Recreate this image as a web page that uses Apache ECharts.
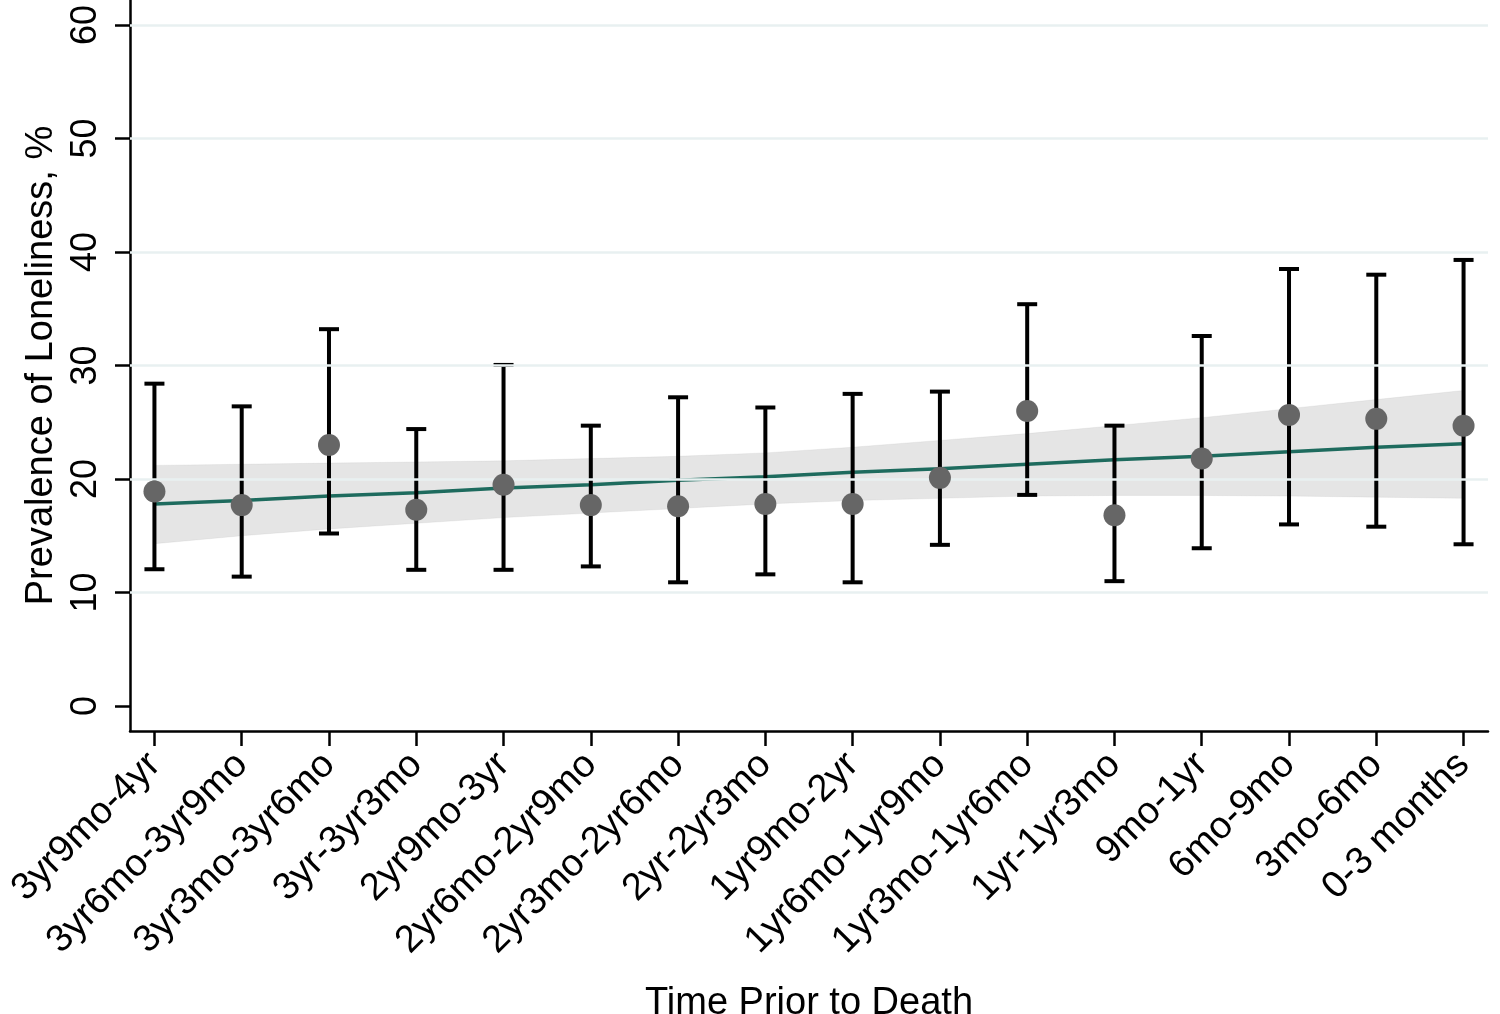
<!DOCTYPE html>
<html>
<head>
<meta charset="utf-8">
<script src="https://cdn.jsdelivr.net/npm/echarts@6/dist/echarts.min.js"></script>
<style>
  html, body { margin: 0; padding: 0; background: #fff; }
  #main { width: 1500px; height: 1014px; }
</style>
</head>
<body>
<div id="main"></div>
<script>
var categories = ['3yr9mo-4yr', '3yr6mo-3yr9mo', '3yr3mo-3yr6mo', '3yr-3yr3mo', '2yr9mo-3yr',
  '2yr6mo-2yr9mo', '2yr3mo-2yr6mo', '2yr-2yr3mo', '1yr9mo-2yr', '1yr6mo-1yr9mo',
  '1yr3mo-1yr6mo', '1yr-1yr3mo', '9mo-1yr', '6mo-9mo', '3mo-6mo', '0-3 months'];
// observed prevalence and 95% CI
var prevalence = [18.9, 17.7, 23.0, 17.3, 19.5, 17.7, 17.6, 17.8, 17.8, 20.1, 26.0, 16.8, 21.8, 25.65, 25.3, 24.7];
var ciLower = [12.05, 11.4, 15.2, 12.0, 12.0, 12.3, 10.9, 11.6, 10.9, 14.2, 18.6, 11.0, 13.9, 16.0, 15.8, 14.25];
var ciUpper = [28.4, 26.4, 33.2, 24.4, 30.05, 24.7, 27.2, 26.3, 27.5, 27.7, 35.4, 24.7, 32.6, 38.5, 38.0, 39.3];
// fitted trend and its band
var fitLine = [17.8, 18.1, 18.5, 18.8, 19.2, 19.5, 19.9, 20.2, 20.6, 20.9, 21.3, 21.7, 22.0, 22.4, 22.8, 23.1];
var bandLower = [14.3, 15.0, 15.6, 16.1, 16.6, 17.0, 17.4, 17.8, 18.1, 18.3, 18.5, 18.55, 18.55, 18.5, 18.4, 18.3];
var bandUpper = [21.2, 21.3, 21.4, 21.5, 21.6, 21.8, 22.0, 22.3, 22.8, 23.4, 24.0, 24.7, 25.4, 26.2, 27.0, 27.8];
var yTicks = [0, 10, 20, 30, 40, 50, 60];
var gridValues = [10, 20, 30, 40, 50, 60];

var idx = categories.map(function (c, i) { return i; });
var font = 'Liberation Sans, Arial, Helvetica, sans-serif';

var chart = echarts.init(document.getElementById('main'), null, { renderer: 'canvas' });

var option = {
  animation: false,
  backgroundColor: '#fff',
  grid: { left: 130, right: 12, top: 0, bottom: 283, outerBoundsMode: 'none', containLabel: false },
  xAxis: {
    type: 'value',
    min: -0.28,
    max: 15.28,
    name: 'Time Prior to Death',
    nameLocation: 'middle',
    nameGap: 254,
    nameTextStyle: { fontFamily: font, fontSize: 38, color: '#000' },
    axisLine: { onZero: false, lineStyle: { color: '#000', width: 2.5 } },
    axisTick: { customValues: idx, length: 15, lineStyle: { color: '#000', width: 2.5 } },
    axisLabel: {
      customValues: idx,
      rotate: 45,
      margin: 28,
      fontFamily: font,
      fontSize: 38,
      color: '#000',
      formatter: function (v) { return categories[Math.round(v)]; }
    },
    splitLine: { show: false }
  },
  yAxis: {
    type: 'value',
    min: -2.2,
    max: 62.2,
    name: 'Prevalence of Loneliness, %',
    nameLocation: 'middle',
    nameGap: 62,
    nameTextStyle: { fontFamily: font, fontSize: 38, color: '#000' },
    axisLine: { show: true, onZero: false, lineStyle: { color: '#000', width: 2.5 } },
    axisTick: { show: true, customValues: yTicks, length: 15, lineStyle: { color: '#000', width: 2.5 } },
    axisLabel: {
      customValues: yTicks,
      rotate: 90,
      margin: 26,
      fontFamily: font,
      fontSize: 36,
      color: '#000'
    },
    splitLine: { show: false }
  },
  series: [
    {
      // fitted band drawn as polygon pieces between neighbouring categories
      type: 'custom',
      data: idx.map(function (i) { return [i, bandLower[i], bandUpper[i]]; }),
      renderItem: function (params, api) {
        var i = params.dataIndex;
        if (i >= idx.length - 1) return null;
        var a0 = api.coord([i, bandUpper[i]]);
        var a1 = api.coord([i + 1, bandUpper[i + 1]]);
        var b1 = api.coord([i + 1, bandLower[i + 1]]);
        var b0 = api.coord([i, bandLower[i]]);
        return {
          type: 'polygon',
          shape: { points: [a0, a1, b1, b0] },
          style: { fill: 'rgba(150,150,150,0.25)', stroke: 'rgba(150,150,150,0.25)', lineWidth: 0.5 }
        };
      },
      z: 1,
      markLine: {
        silent: true,
        symbol: 'none',
        label: { show: false },
        lineStyle: { color: '#e8f0f1', width: 2.5, type: 'solid' },
        data: gridValues.map(function (v) { return { yAxis: v }; })
      }
    },
    {
      type: 'line',
      data: idx.map(function (i) { return [i, fitLine[i]]; }),
      symbol: 'none',
      lineStyle: { color: '#1e6b5e', width: 3.5 },
      z: 3
    },
    {
      type: 'custom',
      data: idx.map(function (i) { return [i, ciLower[i], ciUpper[i]]; }),
      renderItem: function (params, api) {
        var lo = api.coord([api.value(0), api.value(1)]);
        var hi = api.coord([api.value(0), api.value(2)]);
        var half = 10;
        var style = { stroke: '#000', lineWidth: 4 };
        return {
          type: 'group',
          children: [
            { type: 'line', shape: { x1: lo[0], y1: lo[1], x2: hi[0], y2: hi[1] }, style: style },
            { type: 'line', shape: { x1: lo[0] - half, y1: lo[1], x2: lo[0] + half, y2: lo[1] }, style: style },
            { type: 'line', shape: { x1: hi[0] - half, y1: hi[1], x2: hi[0] + half, y2: hi[1] }, style: style }
          ]
        };
      },
      z: 4
    },
    {
      type: 'scatter',
      data: idx.map(function (i) { return [i, prevalence[i]]; }),
      symbol: 'circle',
      symbolSize: 22,
      itemStyle: { color: '#666666', opacity: 1 },
      z: 5
    }
  ]
};

chart.setOption(option);
</script>
</body>
</html>
